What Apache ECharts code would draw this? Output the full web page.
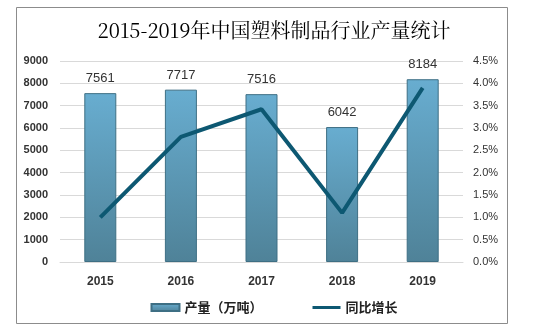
<!DOCTYPE html>
<html><head><meta charset="utf-8">
<script src="https://cdn.jsdelivr.net/npm/echarts@6/dist/echarts.min.js"></script>
<style>html,body{margin:0;padding:0;background:#fff}#c{width:548px;height:333px}</style>
</head><body><div id="c"></div>
<script>
var categories = ['2015','2016','2017','2018','2019'];
var output = [7561, 7717, 7516, 6042, 8184];
var growth = [1.0, 2.8, 3.42, 1.1, 3.9];
var leftTicks = [0, 9000, 1000];
var rightTicks = [0, 4.5, 0.5];

var chart = echarts.init(document.getElementById('c'), null, {renderer:'canvas'});
chart.setOption({
  animation: false,
  backgroundColor: '#fff',
  graphic: [{type:'rect', shape:{x:16.5,y:7.5,width:491,height:316}, style:{fill:'none', stroke:'#8c8c8c', lineWidth:1}}],
  title: {text:'2015-2019年中国塑料制品行业产量统计', left:'center', top:15,
    textStyle:{fontFamily:'"Noto Serif CJK SC","Noto Sans CJK SC",serif', fontSize:20, fontWeight:'normal', color:'#000'}},
  legend: {bottom:14, left:'center', itemGap:50, itemWidth:28, itemHeight:7,
    textStyle:{fontFamily:'"Noto Sans CJK SC",sans-serif', fontSize:13, fontWeight:'bold', color:'#222'},
    data:[{name:'产量（万吨）', icon:'rect'},{name:'同比增长', icon:'path://M0,0 L28,0 L28,3 L0,3 Z'}]},
  grid: {left:60, right:85, top:61, bottom:71},
  xAxis: {type:'category', data:categories,
    axisLine:{lineStyle:{color:'#d9d9d9'}}, axisTick:{show:false},
    axisLabel:{color:'#333', fontWeight:'bold', fontSize:12, margin:14, fontFamily:'Arial,sans-serif'}},
  yAxis: [
    {type:'value', min:leftTicks[0], max:leftTicks[1], interval:leftTicks[2],
     axisLine:{show:false}, axisTick:{show:false},
     splitLine:{lineStyle:{color:'#d9d9d9'}},
     axisLabel:{color:'#333', fontWeight:'bold', fontSize:11, margin:12, fontFamily:'Arial,sans-serif',
       formatter:function(v){return String(v);}}},
    {type:'value', min:rightTicks[0], max:rightTicks[1], interval:rightTicks[2],
     axisLine:{show:false}, axisTick:{show:false}, splitLine:{show:false},
     axisLabel:{color:'#333', fontSize:11, margin:10, fontFamily:'Arial,sans-serif',
       formatter:function(v){return v.toFixed(1)+'%';}}}
  ],
  series: [
    {name:'产量（万吨）', type:'bar', data:output, barWidth:32,
     itemStyle:{borderColor:'#3e6f84', borderWidth:1,
       color:new echarts.graphic.LinearGradient(0,0,0,1,[{offset:0,color:'#68add0'},{offset:1,color:'#4f8298'}])},
     label:{show:true, position:'top', distance:8, color:'#333', fontSize:13, fontFamily:'Arial,sans-serif'}},
    {name:'同比增长', type:'line', yAxisIndex:1, data:growth, symbol:'none',
     lineStyle:{color:'#0d5872', width:4}, itemStyle:{color:'#0d5872'}}
  ]
});
</script></body></html>
